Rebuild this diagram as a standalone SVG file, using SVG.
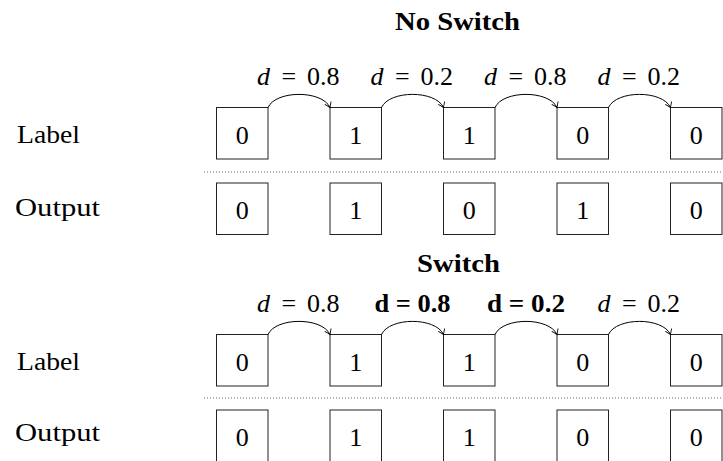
<svg xmlns="http://www.w3.org/2000/svg" width="723" height="461" viewBox="0 0 723 461">
<style>
text{font-family:"Liberation Serif","Times New Roman",serif;fill:#000}
.t{font-size:26px}
.lab{font-size:25px}
.title{font-size:26px;font-weight:bold;text-anchor:middle}
.dig{font-size:26px;text-anchor:middle}
.it{font-style:italic}
.b{font-size:25px;font-weight:bold;text-anchor:middle}
.box{fill:#fff;stroke:#222;stroke-width:1}
.dot{stroke:#666;stroke-width:1;stroke-dasharray:1 2;fill:none}
.arc{fill:none;stroke:#000;stroke-width:1;marker-end:url(#to)}
</style>
<defs>
<marker id="to" viewBox="-6 -5 8 10" refX="0" refY="0" markerWidth="8" markerHeight="10" markerUnits="userSpaceOnUse" orient="auto">
<path d="M-5,-3.5 Q-1.5,-1 0,0 Q-1.5,1 -5,3.5" fill="none" stroke="#000" stroke-width="0.9"/>
</marker>
</defs>

<g id="title-noswitch"><text class="title" x="457.5" y="30" textLength="125" lengthAdjust="spacingAndGlyphs">No Switch</text></g>
<g id="title-switch"><text class="title" x="458.5" y="272" textLength="83" lengthAdjust="spacingAndGlyphs">Switch</text></g>

<g id="row-labels">
<text class="lab" x="17" y="143" textLength="63" lengthAdjust="spacingAndGlyphs">Label</text>
<text class="lab" x="15" y="215.5" textLength="85" lengthAdjust="spacingAndGlyphs">Output</text>
<text class="lab" x="17" y="370" textLength="63" lengthAdjust="spacingAndGlyphs">Label</text>
<text class="lab" x="15" y="441" textLength="85" lengthAdjust="spacingAndGlyphs">Output</text>
</g>

<g id="separators">
<line class="dot" x1="204" y1="172" x2="723" y2="172"/>
<line class="dot" x1="204" y1="398" x2="723" y2="398"/>
</g>

<!-- Section 1: No Switch, label row -->
<g id="ns-label-1"><rect class="box" x="216.5" y="107.5" width="51.5" height="51.5"/><text class="dig" x="242.25" y="143.5">0</text></g>
<g id="ns-label-2"><rect class="box" x="330" y="107.5" width="51.5" height="51.5"/><text class="dig" x="355.75" y="143.5">1</text></g>
<g id="ns-label-3"><rect class="box" x="443.5" y="107.5" width="51.5" height="51.5"/><text class="dig" x="469.25" y="143.5">1</text></g>
<g id="ns-label-4"><rect class="box" x="557" y="107.5" width="51.5" height="51.5"/><text class="dig" x="582.75" y="143.5">0</text></g>
<g id="ns-label-5"><rect class="box" x="670.5" y="107.5" width="51.5" height="51.5"/><text class="dig" x="696.25" y="143.5">0</text></g>

<!-- Section 1: output row -->
<g id="ns-out-1"><rect class="box" x="216.5" y="183" width="51.5" height="51.5"/><text class="dig" x="242.25" y="219">0</text></g>
<g id="ns-out-2"><rect class="box" x="330" y="183" width="51.5" height="51.5"/><text class="dig" x="355.75" y="219">1</text></g>
<g id="ns-out-3"><rect class="box" x="443.5" y="183" width="51.5" height="51.5"/><text class="dig" x="469.25" y="219">0</text></g>
<g id="ns-out-4"><rect class="box" x="557" y="183" width="51.5" height="51.5"/><text class="dig" x="582.75" y="219">1</text></g>
<g id="ns-out-5"><rect class="box" x="670.5" y="183" width="51.5" height="51.5"/><text class="dig" x="696.25" y="219">0</text></g>

<!-- Section 2: Switch, label row -->
<g id="sw-label-1"><rect class="box" x="216.5" y="334.5" width="51.5" height="51.5"/><text class="dig" x="242.25" y="370.5">0</text></g>
<g id="sw-label-2"><rect class="box" x="330" y="334.5" width="51.5" height="51.5"/><text class="dig" x="355.75" y="370.5">1</text></g>
<g id="sw-label-3"><rect class="box" x="443.5" y="334.5" width="51.5" height="51.5"/><text class="dig" x="469.25" y="370.5">1</text></g>
<g id="sw-label-4"><rect class="box" x="557" y="334.5" width="51.5" height="51.5"/><text class="dig" x="582.75" y="370.5">0</text></g>
<g id="sw-label-5"><rect class="box" x="670.5" y="334.5" width="51.5" height="51.5"/><text class="dig" x="696.25" y="370.5">0</text></g>

<!-- Section 2: output row -->
<g id="sw-out-1"><rect class="box" x="216.5" y="410" width="51.5" height="51.5"/><text class="dig" x="242.25" y="446">0</text></g>
<g id="sw-out-2"><rect class="box" x="330" y="410" width="51.5" height="51.5"/><text class="dig" x="355.75" y="446">1</text></g>
<g id="sw-out-3"><rect class="box" x="443.5" y="410" width="51.5" height="51.5"/><text class="dig" x="469.25" y="446">1</text></g>
<g id="sw-out-4"><rect class="box" x="557" y="410" width="51.5" height="51.5"/><text class="dig" x="582.75" y="446">0</text></g>
<g id="sw-out-5"><rect class="box" x="670.5" y="410" width="51.5" height="51.5"/><text class="dig" x="696.25" y="446">0</text></g>

<g id="connectors">
<path class="arc" d="M268,107.5 C276,90 322,90 330,107.5"/>
<path class="arc" d="M381.5,107.5 C389.5,90 435.5,90 443.5,107.5"/>
<path class="arc" d="M495,107.5 C503,90 549,90 557,107.5"/>
<path class="arc" d="M608.5,107.5 C616.5,90 662.5,90 670.5,107.5"/>
<path class="arc" d="M268,334.5 C276,317 322,317 330,334.5"/>
<path class="arc" d="M381.5,334.5 C389.5,317 435.5,317 443.5,334.5"/>
<path class="arc" d="M495,334.5 C503,317 549,317 557,334.5"/>
<path class="arc" d="M608.5,334.5 C616.5,317 662.5,317 670.5,334.5"/>
</g>

<g id="edge-labels">
<text class="t" y="85"><tspan class="it" x="257">d</tspan><tspan x="281.5">=</tspan><tspan x="307">0.8</tspan></text>
<text class="t" y="85"><tspan class="it" x="370.5">d</tspan><tspan x="395">=</tspan><tspan x="420.5">0.2</tspan></text>
<text class="t" y="85"><tspan class="it" x="484">d</tspan><tspan x="508.5">=</tspan><tspan x="534">0.8</tspan></text>
<text class="t" y="85"><tspan class="it" x="597.5">d</tspan><tspan x="622">=</tspan><tspan x="647.5">0.2</tspan></text>
<text class="t" y="312"><tspan class="it" x="257">d</tspan><tspan x="281.5">=</tspan><tspan x="307">0.8</tspan></text>
<text class="b" x="412.5" y="312" textLength="76" lengthAdjust="spacingAndGlyphs">d = 0.8</text>
<text class="b" x="526" y="312" textLength="78" lengthAdjust="spacingAndGlyphs">d = 0.2</text>
<text class="t" y="312"><tspan class="it" x="597.5">d</tspan><tspan x="622">=</tspan><tspan x="647.5">0.2</tspan></text>
</g>
</svg>
